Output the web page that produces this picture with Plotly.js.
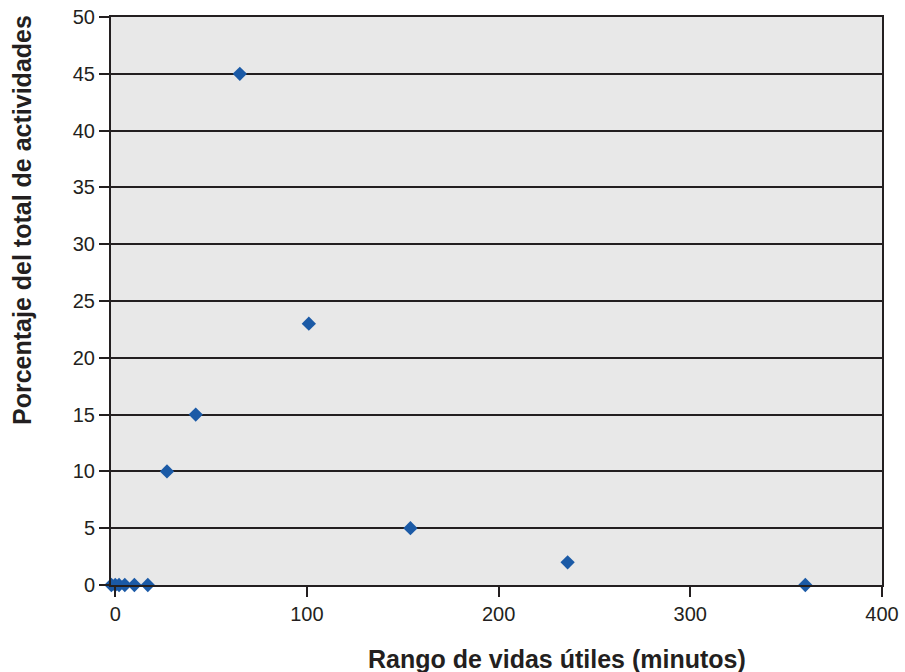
<!DOCTYPE html>
<html>
<head>
<meta charset="utf-8">
<script src="https://cdn.plot.ly/plotly-3.0.1.min.js"></script>
<style>html,body{margin:0;padding:0;background:#fff;}#chart{width:905px;height:672px;}</style>
</head>
<body>
<div id="chart"></div>
<script>
var vidaUtil = [-2, 0, 2, 5, 10, 17, 27, 42, 65, 101, 154, 236, 360];
var porcentaje = [0, 0, 0, 0, 0, 0, 10, 15, 45, 23, 5, 2, 0];
var xTicks = [0, 100, 200, 300, 400];
var yTicks = [0, 5, 10, 15, 20, 25, 30, 35, 40, 45, 50];
var xTitle = 'Rango de vidas útiles (minutos)';
var yTitle = 'Porcentaje del total de actividades';

var ink = '#231f20';
var trace = {
  x: vidaUtil, y: porcentaje, type: 'scatter', mode: 'markers',
  cliponaxis: false,
  marker: {symbol: 'diamond', size: 11, color: '#1b5aa6', line: {width: 0}}
};
var layout = {
  width: 905, height: 672,
  margin: {l: 111, r: 23, t: 17, b: 87},
  paper_bgcolor: '#ffffff', plot_bgcolor: '#e8e8e8',
  font: {family: 'Liberation Sans, Arial, sans-serif', color: ink, size: 20},
  showlegend: false,
  xaxis: {
    range: [-2.2, 400], tickvals: xTicks, ticks: 'outside', ticklen: 10, tickwidth: 2, tickcolor: ink,
    showline: true, linecolor: ink, linewidth: 2, mirror: true, showgrid: false, zeroline: false,
    tickfont: {size: 20, color: ink}
  },
  yaxis: {
    range: [0, 50], tickvals: yTicks, ticks: 'outside', ticklen: 10, tickwidth: 2, tickcolor: ink,
    showline: true, linecolor: ink, linewidth: 2, mirror: true,
    showgrid: true, gridcolor: ink, gridwidth: 2, zeroline: false,
    tickfont: {size: 20, color: ink}
  },
  annotations: [
    {text: '<b>' + xTitle + '</b>', xref: 'paper', yref: 'paper', x: (557 - 111) / 771, y: -(659 - 585) / 568,
     xanchor: 'center', yanchor: 'middle', showarrow: false, font: {size: 25, color: ink}},
    {text: '<b>' + yTitle + '</b>', xref: 'paper', yref: 'paper', x: -(111 - 22) / 771, y: (585 - 220) / 568,
     xanchor: 'center', yanchor: 'middle', textangle: -90, showarrow: false, font: {size: 25, color: ink}}
  ]
};
Plotly.newPlot('chart', [trace], layout, {displayModeBar: false, staticPlot: true});
</script>
</body>
</html>
